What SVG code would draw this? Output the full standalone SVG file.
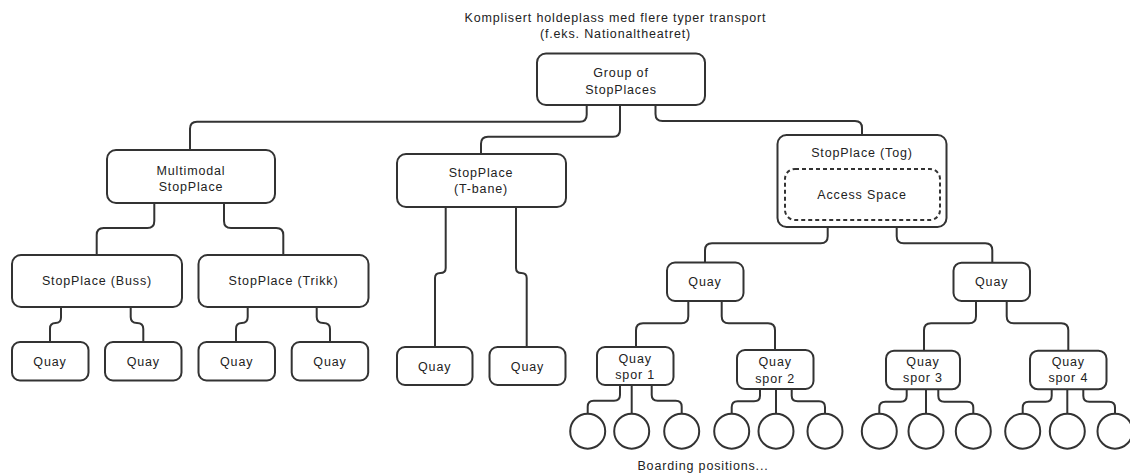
<svg xmlns="http://www.w3.org/2000/svg" width="1130" height="475" viewBox="0 0 1130 475">
<style>
  .box { fill: #ffffff; stroke: #333333; stroke-width: 2; }
  .dash { fill: none; stroke: #333333; stroke-width: 2; stroke-dasharray: 4 3; }
  .c { fill: #ffffff; stroke: #333333; stroke-width: 2; }
  .t { font-family: "Liberation Sans", Arial, sans-serif; font-size: 12.5px; fill: #222222; text-anchor: middle; letter-spacing: 0.85px; }
  .conn path { fill: none; stroke: #333333; stroke-width: 2; }
</style>
<rect width="1130" height="475" fill="#ffffff"/>

<g id="title">
  <text class="t" x="615.5" y="22">Komplisert holdeplass med flere typer transport</text>
  <text class="t" x="615.5" y="38">(f.eks. Nationaltheatret)</text>
</g>

<g class="conn" id="connectors">
  <path d="M586.7 105 V114.7 Q586.7 121.7 579.7 121.7 H197 Q190 121.7 190 128.7 V150"/>
  <path d="M620 105 V129.7 Q620 136.7 613 136.7 H488 Q481 136.7 481 143.7 V154"/>
  <path d="M655.5 105 V114 Q655.5 121 662.5 121 H855 Q862 121 862 128 V135"/>
  <path d="M154.3 203 V221 Q154.3 228 147.3 228 H103.7 Q96.7 228 96.7 235 V255"/>
  <path d="M224 203 V221 Q224 228 231 228 H276.3 Q283.3 228 283.3 235 V255"/>
  <path d="M61 307 V317.5 Q61 323 55.5 323 Q50 323 50 328.5 V342"/>
  <path d="M130.7 307 V317 Q130.7 323 137 323 Q143.3 323 143.3 329 V342"/>
  <path d="M247.7 307 V317 Q247.7 323 241.8 323 Q236 323 236 329 V342"/>
  <path d="M316.7 307 V317 Q316.7 323 323.3 323 Q330 323 330 329 V342"/>
  <path d="M445.7 207 V268 Q445.7 273 440.3 273 Q435 273 435 278 V347"/>
  <path d="M516 207 V268 Q516 273 521.3 273 Q526.7 273 526.7 278 V347"/>
  <path d="M827.7 227 V236.3 Q827.7 243.3 820.7 243.3 H712 Q705 243.3 705 250.3 V262.5"/>
  <path d="M896.7 227 V236.3 Q896.7 243.3 903.7 243.3 H985.3 Q992.3 243.3 992.3 250.3 V262.7"/>
  <path d="M688.3 301 V316.3 Q688.3 323.3 681.3 323.3 H643 Q636 323.3 636 330.3 V347"/>
  <path d="M721.7 301 V316.3 Q721.7 323.3 728.7 323.3 H768 Q775 323.3 775 330.3 V350"/>
  <path d="M976 301 V316.3 Q976 323.3 969 323.3 H931 Q924 323.3 924 330.3 V350.7"/>
  <path d="M1006.7 301 V316.3 Q1006.7 323.3 1013.7 323.3 H1061.3 Q1068.3 323.3 1068.3 330.3 V350.7"/>
  <path d="M620 385 V395 Q620 400.7 614 400.7 H593.7 Q587.7 400.7 587.7 406.7 V414"/>
  <path d="M631.7 385 V414"/>
  <path d="M651.7 385 V395 Q651.7 400.7 657.7 400.7 H675.7 Q681.7 400.7 681.7 406.7 V414"/>
  <path d="M760 389 V395.7 Q760 401.2 754 401.2 H737.7 Q731.7 401.2 731.7 407.2 V414"/>
  <path d="M776 389 V414"/>
  <path d="M791.7 389 V395.7 Q791.7 401.2 797.7 401.2 H819 Q825 401.2 825 407.2 V414"/>
  <path d="M906.7 389 V395.7 Q906.7 401.7 900.7 401.7 H885.3 Q879.3 401.7 879.3 407.7 V414"/>
  <path d="M926 389 V414"/>
  <path d="M938.3 389 V395.7 Q938.3 401.7 944.3 401.7 H967.3 Q973.3 401.7 973.3 407.7 V414"/>
  <path d="M1051.7 389 V395.7 Q1051.7 401.7 1045.7 401.7 H1028.7 Q1022.7 401.7 1022.7 407.7 V414"/>
  <path d="M1067.3 389 V414"/>
  <path d="M1083.3 389 V395.7 Q1083.3 401.7 1089.3 401.7 H1109 Q1115 401.7 1115 407.7 V414"/>
</g>

<g id="group-of-stopplaces">
  <rect class="box" x="537" y="53.5" width="168" height="51.5" rx="9"/>
  <text class="t" x="621" y="77">Group of</text>
  <text class="t" x="621" y="94">StopPlaces</text>
</g>

<g id="multimodal">
  <rect class="box" x="107" y="150" width="168" height="53" rx="9"/>
  <text class="t" x="191" y="175">Multimodal</text>
  <text class="t" x="191" y="190.5">StopPlace</text>
</g>

<g id="stopplace-tbane">
  <rect class="box" x="397" y="154" width="169" height="53" rx="9"/>
  <text class="t" x="481" y="177">StopPlace</text>
  <text class="t" x="481" y="193">(T-bane)</text>
</g>

<g id="stopplace-tog">
  <rect class="box" x="777.5" y="135" width="169" height="92" rx="9"/>
  <text class="t" x="862" y="157">StopPlace (Tog)</text>
  <rect class="dash" x="785" y="169" width="155" height="51" rx="10"/>
  <text class="t" x="862" y="199">Access Space</text>
</g>

<g id="stopplace-buss">
  <rect class="box" x="12" y="255" width="170" height="52" rx="9"/>
  <text class="t" x="97" y="285">StopPlace (Buss)</text>
</g>

<g id="stopplace-trikk">
  <rect class="box" x="198.5" y="255" width="170" height="52" rx="9"/>
  <text class="t" x="283.5" y="285">StopPlace (Trikk)</text>
</g>

<g id="quay-buss-1">
  <rect class="box" x="12" y="342" width="76.5" height="38.5" rx="8"/>
  <text class="t" x="50" y="366">Quay</text>
</g>
<g id="quay-buss-2">
  <rect class="box" x="105" y="342" width="76.5" height="38.5" rx="8"/>
  <text class="t" x="143.3" y="366">Quay</text>
</g>
<g id="quay-trikk-1">
  <rect class="box" x="198.5" y="342" width="76.5" height="38.5" rx="8"/>
  <text class="t" x="236.7" y="366">Quay</text>
</g>
<g id="quay-trikk-2">
  <rect class="box" x="291.7" y="342" width="76.5" height="38.5" rx="8"/>
  <text class="t" x="330" y="366">Quay</text>
</g>

<g id="quay-tbane-1">
  <rect class="box" x="397" y="347" width="75.5" height="38" rx="8"/>
  <text class="t" x="434.7" y="371">Quay</text>
</g>
<g id="quay-tbane-2">
  <rect class="box" x="489.5" y="347" width="76" height="38" rx="8"/>
  <text class="t" x="527.5" y="371">Quay</text>
</g>

<g id="quay-tog-1">
  <rect class="box" x="667" y="262.5" width="76.5" height="38.5" rx="8"/>
  <text class="t" x="705" y="286">Quay</text>
</g>
<g id="quay-tog-2">
  <rect class="box" x="953.5" y="262.7" width="76.5" height="38.3" rx="8"/>
  <text class="t" x="991.7" y="286">Quay</text>
</g>

<g id="quay-spor-1">
  <rect class="box" x="597" y="347" width="76.5" height="38" rx="8"/>
  <text class="t" x="635.2" y="363">Quay</text>
  <text class="t" x="635.2" y="379">spor 1</text>
</g>
<g id="quay-spor-2">
  <rect class="box" x="737" y="350" width="76.5" height="39" rx="8"/>
  <text class="t" x="775.2" y="366">Quay</text>
  <text class="t" x="775.2" y="383">spor 2</text>
</g>
<g id="quay-spor-3">
  <rect class="box" x="886" y="350.7" width="74" height="38.6" rx="8"/>
  <text class="t" x="923" y="366">Quay</text>
  <text class="t" x="923" y="382">spor 3</text>
</g>
<g id="quay-spor-4">
  <rect class="box" x="1030" y="350.7" width="76.5" height="38.6" rx="8"/>
  <text class="t" x="1068.3" y="366">Quay</text>
  <text class="t" x="1068.3" y="382">spor 4</text>
</g>

<g id="boarding-positions">
  <circle class="c" cx="587.7" cy="431.2" r="17.5"/>
  <circle class="c" cx="631.7" cy="431.2" r="17.5"/>
  <circle class="c" cx="681.7" cy="431.2" r="17.5"/>
  <circle class="c" cx="731.7" cy="431.2" r="17.5"/>
  <circle class="c" cx="776" cy="431.2" r="17.5"/>
  <circle class="c" cx="825" cy="431.2" r="17.5"/>
  <circle class="c" cx="879.3" cy="431.2" r="17.5"/>
  <circle class="c" cx="926" cy="431.2" r="17.5"/>
  <circle class="c" cx="973.3" cy="431.2" r="17.5"/>
  <circle class="c" cx="1022.7" cy="431.2" r="17.5"/>
  <circle class="c" cx="1067.3" cy="431.2" r="17.5"/>
  <circle class="c" cx="1115" cy="431.2" r="17.5"/>
  <text class="t" x="703" y="470">Boarding positions...</text>
</g>
</svg>
